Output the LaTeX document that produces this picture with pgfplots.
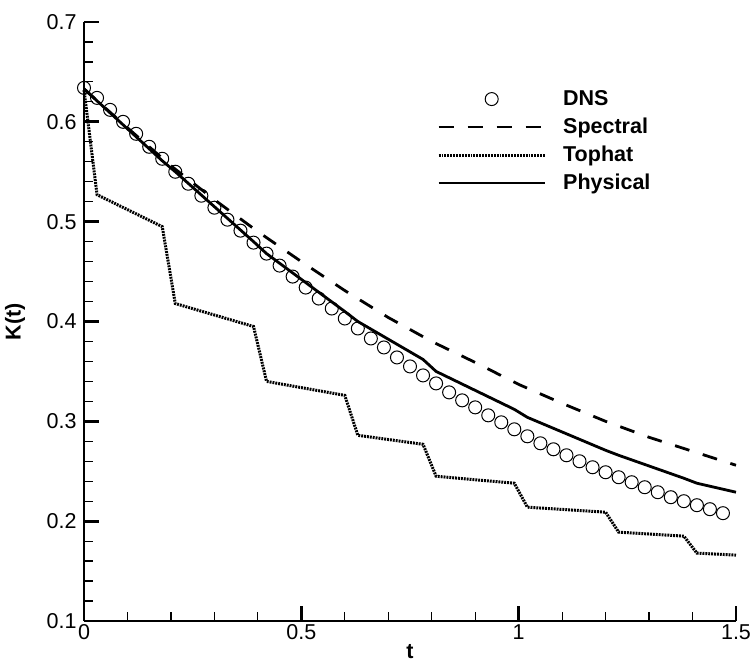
\documentclass[border=0pt]{standalone}
\usepackage{pgfplots}
\pgfplotsset{compat=1.18}
\usepackage{fontspec}
\setmainfont{Liberation Sans}
\begin{document}
\begin{tikzpicture}
\useasboundingbox (-84pt,-48pt) rectangle (669pt,621pt);
\begin{axis}[
  at={(0pt,0pt)}, anchor=south west,
  scale only axis, width=652pt, height=599pt,
  xmin=0, xmax=1.5, ymin=0.1, ymax=0.7,
  axis x line=bottom, axis y line=left,
  axis line style={-, line width=2.7pt},
  xtick={0,0.5,1,1.5}, minor x tick num=4,
  ytick={0.1,0.2,0.3,0.4,0.5,0.6,0.7}, minor y tick num=4,
  tick align=inside,
  major tick length=15pt, minor tick length=9pt,
  major tick style={line width=2.7pt, black},
  minor tick style={line width=1.2pt, black},
  /pgf/number format/assume math mode=true,
  tick label style={font=\fontsize{21.5}{25}\selectfont},
  yticklabel style={xshift=-4pt},
  xlabel={t}, ylabel={K(t)},
  xlabel style={font=\bfseries\fontsize{21.5}{25}\selectfont, at={(axis description cs:0.5,-0.0518)}, anchor=center},
  ylabel style={font=\bfseries\fontsize{21.5}{25}\selectfont, at={(axis description cs:-0.1058,0.5)}, anchor=center},
  clip=false,
  legend image code/.code={\draw[mark repeat=2,mark phase=2,#1] plot coordinates {(0pt,0pt) (53pt,0pt) (106pt,0pt)};},
  legend cell align=left,
  legend style={draw=none, fill=none, at={(axis description cs:0.5368,0.8917)}, anchor=north west,
    font=\bfseries\fontsize{21.5}{25}\selectfont, row sep=8pt, column sep=17pt,
    nodes={inner sep=0pt, text height=16pt, text depth=4pt}},
]
\addplot[only marks, mark=o, mark size=6.5pt, mark options={line width=1pt, black}] coordinates {
(0,0.634)(0.03,0.624)(0.06,0.612)(0.09,0.600)(0.12,0.588)(0.15,0.575)(0.18,0.563)(0.21,0.550)
(0.24,0.538)(0.27,0.526)(0.30,0.514)(0.33,0.502)(0.36,0.491)(0.39,0.479)(0.42,0.468)(0.45,0.456)
(0.48,0.445)(0.51,0.434)(0.54,0.423)(0.57,0.413)(0.60,0.403)(0.63,0.393)(0.66,0.383)(0.69,0.374)
(0.72,0.364)(0.75,0.355)(0.78,0.346)(0.81,0.338)(0.84,0.329)(0.87,0.321)(0.90,0.314)(0.93,0.306)
(0.96,0.299)(0.99,0.292)(1.02,0.285)(1.05,0.278)(1.08,0.272)(1.11,0.266)(1.14,0.260)(1.17,0.254)
(1.20,0.249)(1.23,0.244)(1.26,0.239)(1.29,0.234)(1.32,0.229)(1.35,0.224)(1.38,0.220)(1.41,0.216)
(1.44,0.212)(1.47,0.208)
};
\addlegendentry{DNS}
\addplot[black, line width=2.8pt, dash pattern=on 15pt off 14pt] coordinates {
(0,0.633)(0.1,0.594)(0.2,0.556)(0.3,0.522)(0.4,0.490)(0.5,0.460)(0.6,0.431)(0.7,0.404)
(0.8,0.380)(0.9,0.359)(1.0,0.337)(1.1,0.318)(1.2,0.300)(1.3,0.284)(1.4,0.270)(1.5,0.256)
};
\addlegendentry{Spectral}
\addplot[black, line width=3pt, dash pattern=on 1.9pt off 1pt] coordinates {
(0,0.632)(0.03,0.527)(0.18,0.495)(0.21,0.418)(0.39,0.395)(0.42,0.340)(0.60,0.326)(0.63,0.286)
(0.78,0.277)(0.81,0.245)(0.99,0.238)(1.02,0.214)(1.20,0.209)(1.23,0.189)(1.38,0.185)(1.41,0.168)(1.50,0.166)
};
\addlegendentry{Tophat}
\addplot[black, line width=2.8pt] coordinates {
(0,0.633)(0.18,0.561)(0.21,0.550)(0.39,0.480)(0.42,0.468)(0.60,0.410)(0.63,0.400)(0.78,0.362)
(0.81,0.350)(0.99,0.312)(1.02,0.304)(1.20,0.271)(1.23,0.266)(1.38,0.243)(1.41,0.238)(1.50,0.229)
};
\addlegendentry{Physical}
\end{axis}
\end{tikzpicture}
\end{document}
